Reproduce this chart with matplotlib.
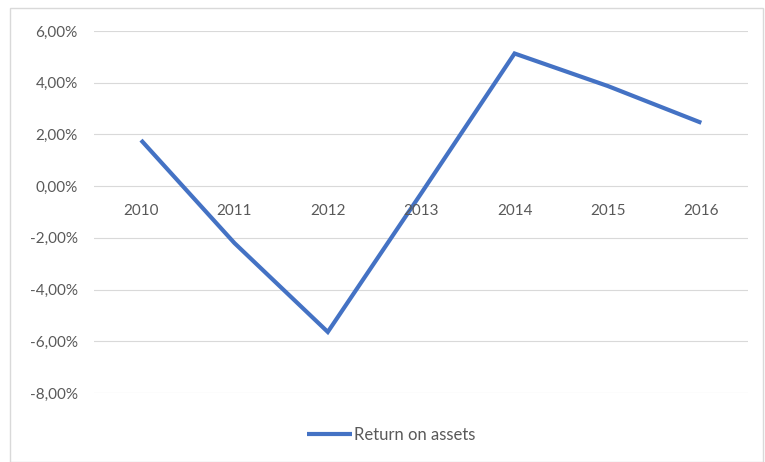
import matplotlib.pyplot as plt
from matplotlib.patches import Rectangle
from matplotlib.ticker import FuncFormatter, FixedLocator

# Return on assets per year, in percent
years = ['2010', '2011', '2012', '2013', '2014', '2015', '2016']
roa = [1.78, -2.2, -5.64, -0.28, 5.13, 3.87, 2.45]

plt.rcParams['font.family'] = ['Lato', 'DejaVu Sans']

fig = plt.figure(figsize=(7.65, 4.62), dpi=100)
ax = fig.add_axes([0.1233, 0.1494, 0.8545, 0.7835])

# light outer frame around the chart
fig.patches.append(Rectangle((10 / 765, 0), 753 / 765, 1 - 8 / 462, transform=fig.transFigure,
                             fill=False, edgecolor='#D9D9D9', linewidth=1))

x = list(range(len(years)))
ax.plot(x, roa, color='#4472C4', linewidth=3, solid_capstyle='butt', solid_joinstyle='miter',
        label='Return on assets', zorder=3)

ax.set_xlim(-0.5, len(years) - 0.5)
ax.set_ylim(-8, 6)
ax.yaxis.set_major_locator(FixedLocator([-8, -6, -4, -2, 0, 2, 4, 6]))
ax.yaxis.set_major_formatter(FuncFormatter(lambda v, p: f"{v:.2f}%".replace('.', ',')))
ax.grid(axis='y', color='#D9D9D9', linewidth=0.8)
ax.set_axisbelow(True)
for s in ax.spines.values():
    s.set_visible(False)
ax.tick_params(axis='y', length=0, pad=12, labelsize=11, labelcolor='#595959')
ax.set_xticks([])

# category labels sit just under the zero line
for i, yr in enumerate(years):
    ax.annotate(yr, xy=(i, 0), xytext=(0, -18), textcoords='offset points',
                ha='center', va='center', fontsize=11, color='#595959')

fig.legend(loc='center left', bbox_to_anchor=(307 / 765, 1 - 435 / 462), frameon=False,
           fontsize=12, handlelength=2.7, handletextpad=0.12, borderpad=0, borderaxespad=0,
           labelcolor='#595959')

fig.savefig('out.png', dpi=100)
